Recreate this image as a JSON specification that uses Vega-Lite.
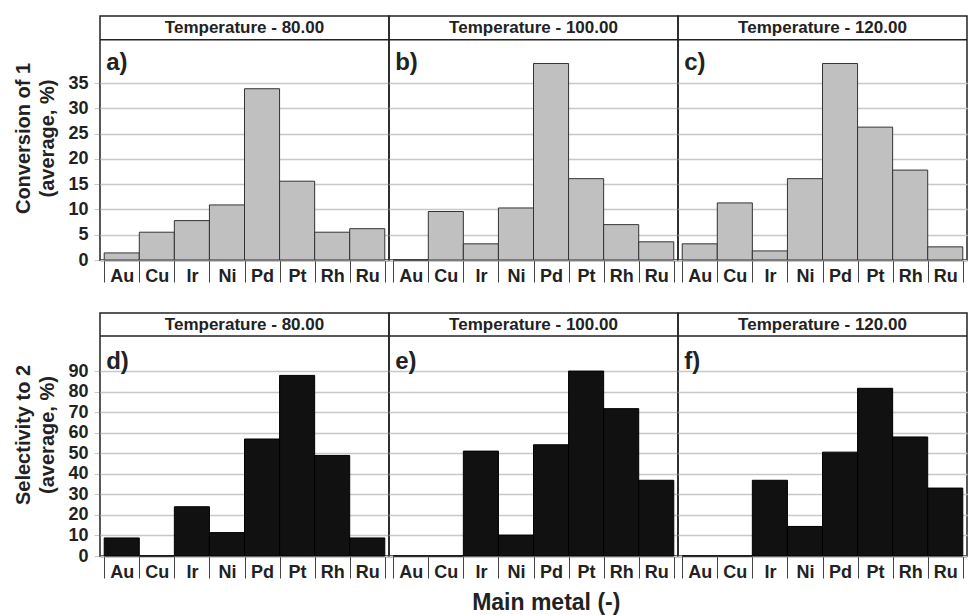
{
  "$schema": "https://vega.github.io/schema/vega-lite/v6.json",
  "padding": {"left": 13, "top": 15, "right": 0, "bottom": 0},
  "background": "white",
  "config": {
    "font": "Liberation Sans",
    "view": {"stroke": "#222", "strokeWidth": 1.5},
    "axis": {"labelFont": "Liberation Sans", "labelFontWeight": "bold", "labelColor": "#222", "titleFont": "Liberation Sans", "titleFontWeight": "bold", "titleColor": "#222"},
    "concat": {"spacing": 27}
  },
  "title": {"text": "Main metal (-)", "orient": "bottom", "anchor": "middle", "fontSize": 23, "fontWeight": "bold", "color": "#222", "font": "Liberation Sans", "offset": 11, "dx": 55},
  "datasets": {
    "conv": [
      {"temp": "Temperature - 80.00", "panel": "a)", "metal": "Au", "value": 1.4},
      {"temp": "Temperature - 80.00", "panel": "a)", "metal": "Cu", "value": 5.5},
      {"temp": "Temperature - 80.00", "panel": "a)", "metal": "Ir", "value": 7.8},
      {"temp": "Temperature - 80.00", "panel": "a)", "metal": "Ni", "value": 10.9},
      {"temp": "Temperature - 80.00", "panel": "a)", "metal": "Pd", "value": 33.9},
      {"temp": "Temperature - 80.00", "panel": "a)", "metal": "Pt", "value": 15.6},
      {"temp": "Temperature - 80.00", "panel": "a)", "metal": "Rh", "value": 5.5},
      {"temp": "Temperature - 80.00", "panel": "a)", "metal": "Ru", "value": 6.2},
      {"temp": "Temperature - 100.00", "panel": "b)", "metal": "Au", "value": 0},
      {"temp": "Temperature - 100.00", "panel": "b)", "metal": "Cu", "value": 9.6},
      {"temp": "Temperature - 100.00", "panel": "b)", "metal": "Ir", "value": 3.2},
      {"temp": "Temperature - 100.00", "panel": "b)", "metal": "Ni", "value": 10.3},
      {"temp": "Temperature - 100.00", "panel": "b)", "metal": "Pd", "value": 38.9},
      {"temp": "Temperature - 100.00", "panel": "b)", "metal": "Pt", "value": 16.1},
      {"temp": "Temperature - 100.00", "panel": "b)", "metal": "Rh", "value": 7.0},
      {"temp": "Temperature - 100.00", "panel": "b)", "metal": "Ru", "value": 3.6},
      {"temp": "Temperature - 120.00", "panel": "c)", "metal": "Au", "value": 3.2},
      {"temp": "Temperature - 120.00", "panel": "c)", "metal": "Cu", "value": 11.3},
      {"temp": "Temperature - 120.00", "panel": "c)", "metal": "Ir", "value": 1.8},
      {"temp": "Temperature - 120.00", "panel": "c)", "metal": "Ni", "value": 16.1},
      {"temp": "Temperature - 120.00", "panel": "c)", "metal": "Pd", "value": 38.9},
      {"temp": "Temperature - 120.00", "panel": "c)", "metal": "Pt", "value": 26.3},
      {"temp": "Temperature - 120.00", "panel": "c)", "metal": "Rh", "value": 17.8},
      {"temp": "Temperature - 120.00", "panel": "c)", "metal": "Ru", "value": 2.6}
    ],
    "sel": [
      {"temp": "Temperature - 80.00", "panel": "d)", "metal": "Au", "value": 8.8},
      {"temp": "Temperature - 80.00", "panel": "d)", "metal": "Cu", "value": 0},
      {"temp": "Temperature - 80.00", "panel": "d)", "metal": "Ir", "value": 24.0},
      {"temp": "Temperature - 80.00", "panel": "d)", "metal": "Ni", "value": 11.4},
      {"temp": "Temperature - 80.00", "panel": "d)", "metal": "Pd", "value": 57.0},
      {"temp": "Temperature - 80.00", "panel": "d)", "metal": "Pt", "value": 88.0},
      {"temp": "Temperature - 80.00", "panel": "d)", "metal": "Rh", "value": 49.0},
      {"temp": "Temperature - 80.00", "panel": "d)", "metal": "Ru", "value": 8.8},
      {"temp": "Temperature - 100.00", "panel": "e)", "metal": "Au", "value": 0},
      {"temp": "Temperature - 100.00", "panel": "e)", "metal": "Cu", "value": 0},
      {"temp": "Temperature - 100.00", "panel": "e)", "metal": "Ir", "value": 51.1},
      {"temp": "Temperature - 100.00", "panel": "e)", "metal": "Ni", "value": 10.2},
      {"temp": "Temperature - 100.00", "panel": "e)", "metal": "Pd", "value": 54.2},
      {"temp": "Temperature - 100.00", "panel": "e)", "metal": "Pt", "value": 90.1},
      {"temp": "Temperature - 100.00", "panel": "e)", "metal": "Rh", "value": 71.8},
      {"temp": "Temperature - 100.00", "panel": "e)", "metal": "Ru", "value": 36.9},
      {"temp": "Temperature - 120.00", "panel": "f)", "metal": "Au", "value": 0},
      {"temp": "Temperature - 120.00", "panel": "f)", "metal": "Cu", "value": 0},
      {"temp": "Temperature - 120.00", "panel": "f)", "metal": "Ir", "value": 36.9},
      {"temp": "Temperature - 120.00", "panel": "f)", "metal": "Ni", "value": 14.4},
      {"temp": "Temperature - 120.00", "panel": "f)", "metal": "Pd", "value": 50.6},
      {"temp": "Temperature - 120.00", "panel": "f)", "metal": "Pt", "value": 81.7},
      {"temp": "Temperature - 120.00", "panel": "f)", "metal": "Rh", "value": 58.0},
      {"temp": "Temperature - 120.00", "panel": "f)", "metal": "Ru", "value": 33.1}
    ]
  },
  "vconcat": [
    {
      "data": {"name": "conv"},
      "facet": {"column": {"field": "temp", "type": "nominal", "sort": ["Temperature - 80.00", "Temperature - 100.00", "Temperature - 120.00"], "header": null}},
      "spacing": 0,
      "bounds": "flush",
      "spec": {
        "width": 289,
        "height": 244,
        "layer": [
          {
            "mark": {"type": "bar", "fill": "#c0c0c0", "stroke": "#333", "strokeWidth": 1},
            "encoding": {
              "x": {"field": "metal", "type": "nominal", "scale": {"paddingInner": 0, "paddingOuter": 0.12},
                "axis": {"title": null, "labelAngle": 0, "tickBand": "extent", "tickSize": 22, "labelPadding": -15, "tickColor": "#444", "tickWidth": 1, "domainColor": "#222", "domainWidth": 1.5, "labelFontSize": 18}},
              "y": {"field": "value", "type": "quantitative", "scale": {"domain": [0, 48.3], "nice": false},
                "axis": {"values": [0, 5, 10, 15, 20, 25, 30, 35], "labelOverlap": false, "grid": true, "gridColor": "#c8c8c8", "gridWidth": 1.5, "tickColor": "#c8c8c8", "tickSize": 6, "domain": false, "labelFontSize": 18, "labelPadding": 6, "title": ["Conversion of 1", "(average, %)"], "titleFontSize": 20, "titleLineHeight": 24, "titlePadding": 10}}
            }
          },
          {
            "transform": [{"filter": "datum.metal === 'Au'"}],
            "mark": {"type": "rule", "color": "#222", "strokeWidth": 1.5},
            "encoding": {"y": {"datum": 43.6, "axis": {"values": [0, 5, 10, 15, 20, 25, 30, 35], "labelOverlap": false, "grid": true, "gridColor": "#c8c8c8", "gridWidth": 1.5, "tickColor": "#c8c8c8", "tickSize": 6, "domain": false, "labelFontSize": 18, "labelPadding": 6, "title": ["Conversion of 1", "(average, %)"], "titleFontSize": 20, "titleLineHeight": 24, "titlePadding": 10}}}
          },
          {
            "transform": [{"filter": "datum.metal === 'Au'"}],
            "mark": {"type": "text", "fontSize": 17, "fontWeight": "bold", "color": "#222", "baseline": "middle"},
            "encoding": {"y": {"datum": 45.9, "axis": {"values": [0, 5, 10, 15, 20, 25, 30, 35], "labelOverlap": false, "grid": true, "gridColor": "#c8c8c8", "gridWidth": 1.5, "tickColor": "#c8c8c8", "tickSize": 6, "domain": false, "labelFontSize": 18, "labelPadding": 6, "title": ["Conversion of 1", "(average, %)"], "titleFontSize": 20, "titleLineHeight": 24, "titlePadding": 10}}, "text": {"field": "temp"}}
          },
          {
            "transform": [{"filter": "datum.metal === 'Au'"}],
            "mark": {"type": "text", "fontSize": 24, "fontWeight": "bold", "color": "#222", "baseline": "middle", "align": "left", "dx": 2},
            "encoding": {"x": {"datum": "Au", "bandPosition": 0}, "y": {"datum": 39, "axis": {"values": [0, 5, 10, 15, 20, 25, 30, 35], "labelOverlap": false, "grid": true, "gridColor": "#c8c8c8", "gridWidth": 1.5, "tickColor": "#c8c8c8", "tickSize": 6, "domain": false, "labelFontSize": 18, "labelPadding": 6, "title": ["Conversion of 1", "(average, %)"], "titleFontSize": 20, "titleLineHeight": 24, "titlePadding": 10}}, "text": {"field": "panel"}}
          }
        ]
      }
    },
    {
      "data": {"name": "sel"},
      "facet": {"column": {"field": "temp", "type": "nominal", "sort": ["Temperature - 80.00", "Temperature - 100.00", "Temperature - 120.00"], "header": null}},
      "spacing": 0,
      "bounds": "flush",
      "spec": {
        "width": 289,
        "height": 243,
        "layer": [
          {
            "mark": {"type": "bar", "fill": "#111", "stroke": "#000", "strokeWidth": 1},
            "encoding": {
              "x": {"field": "metal", "type": "nominal", "scale": {"paddingInner": 0, "paddingOuter": 0.12},
                "axis": {"title": null, "labelAngle": 0, "tickBand": "extent", "tickSize": 22, "labelPadding": -15, "tickColor": "#444", "tickWidth": 1, "domainColor": "#222", "domainWidth": 1.5, "labelFontSize": 18}},
              "y": {"field": "value", "type": "quantitative", "scale": {"domain": [0, 118.4], "nice": false},
                "axis": {"values": [0, 10, 20, 30, 40, 50, 60, 70, 80, 90], "labelOverlap": false, "grid": true, "gridColor": "#c8c8c8", "gridWidth": 1.5, "tickColor": "#c8c8c8", "tickSize": 6, "domain": false, "labelFontSize": 18, "labelPadding": 6, "title": ["Selectivity to 2", "(average, %)"], "titleFontSize": 20, "titleLineHeight": 24, "titlePadding": 10}}
            }
          },
          {
            "transform": [{"filter": "datum.metal === 'Au'"}],
            "mark": {"type": "rule", "color": "#222", "strokeWidth": 1.5},
            "encoding": {"y": {"datum": 107.2, "axis": {"values": [0, 10, 20, 30, 40, 50, 60, 70, 80, 90], "labelOverlap": false, "grid": true, "gridColor": "#c8c8c8", "gridWidth": 1.5, "tickColor": "#c8c8c8", "tickSize": 6, "domain": false, "labelFontSize": 18, "labelPadding": 6, "title": ["Selectivity to 2", "(average, %)"], "titleFontSize": 20, "titleLineHeight": 24, "titlePadding": 10}}}
          },
          {
            "transform": [{"filter": "datum.metal === 'Au'"}],
            "mark": {"type": "text", "fontSize": 17, "fontWeight": "bold", "color": "#222", "baseline": "middle"},
            "encoding": {"y": {"datum": 112.5, "axis": {"values": [0, 10, 20, 30, 40, 50, 60, 70, 80, 90], "labelOverlap": false, "grid": true, "gridColor": "#c8c8c8", "gridWidth": 1.5, "tickColor": "#c8c8c8", "tickSize": 6, "domain": false, "labelFontSize": 18, "labelPadding": 6, "title": ["Selectivity to 2", "(average, %)"], "titleFontSize": 20, "titleLineHeight": 24, "titlePadding": 10}}, "text": {"field": "temp"}}
          },
          {
            "transform": [{"filter": "datum.metal === 'Au'"}],
            "mark": {"type": "text", "fontSize": 24, "fontWeight": "bold", "color": "#222", "baseline": "middle", "align": "left", "dx": 2},
            "encoding": {"x": {"datum": "Au", "bandPosition": 0}, "y": {"datum": 94.6, "axis": {"values": [0, 10, 20, 30, 40, 50, 60, 70, 80, 90], "labelOverlap": false, "grid": true, "gridColor": "#c8c8c8", "gridWidth": 1.5, "tickColor": "#c8c8c8", "tickSize": 6, "domain": false, "labelFontSize": 18, "labelPadding": 6, "title": ["Selectivity to 2", "(average, %)"], "titleFontSize": 20, "titleLineHeight": 24, "titlePadding": 10}}, "text": {"field": "panel"}}
          }
        ]
      }
    }
  ]
}
